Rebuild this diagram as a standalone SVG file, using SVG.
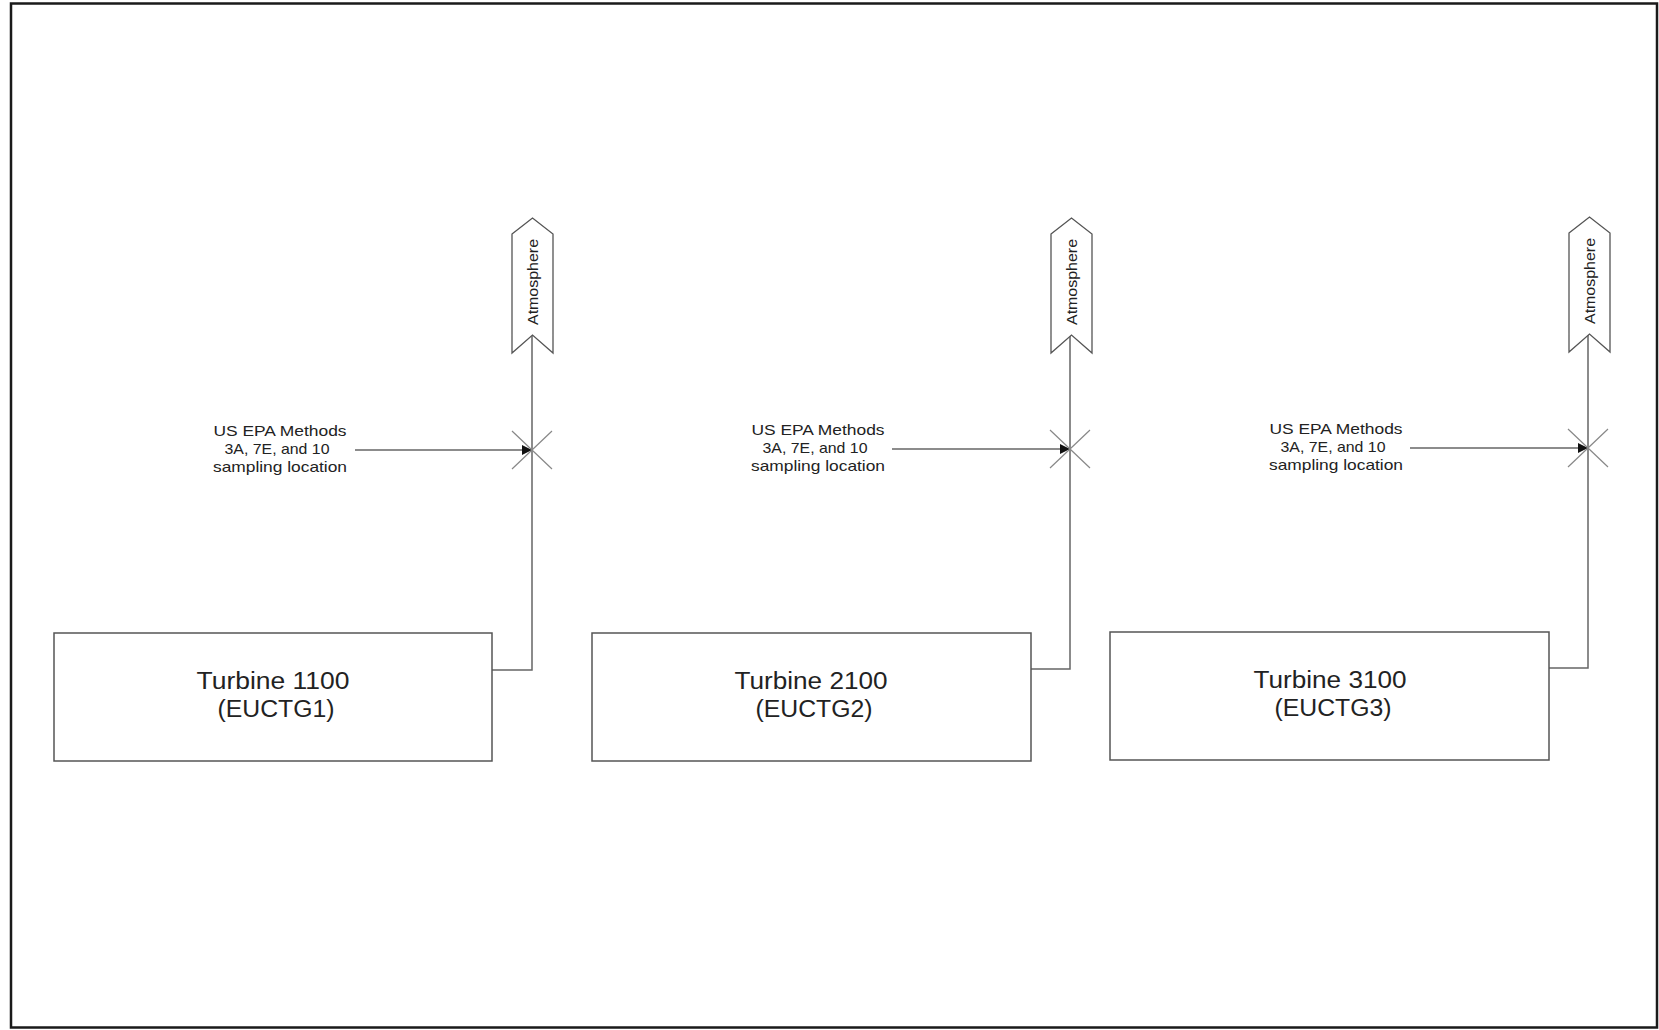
<svg xmlns="http://www.w3.org/2000/svg" width="1659" height="1030" viewBox="0 0 1659 1030">
<defs>
<style>
.frame{fill:none;stroke:#1a1a1a;stroke-width:2.5}
.box{fill:#fff;stroke:#555;stroke-width:1.5}
.stack{fill:#fff;stroke:#555;stroke-width:1.3}
.line{fill:none;stroke:#666;stroke-width:1.5}
.cross{fill:none;stroke:#888;stroke-width:1.2}
.t{font-family:"Liberation Sans",Arial,sans-serif;fill:#222;text-anchor:middle}
.lbl{font-size:15px}
.big{font-size:23px}
.atm{font-size:15px}
</style>
<marker id="arr" viewBox="0 0 10 10" refX="10" refY="5" markerWidth="19" markerHeight="10" markerUnits="userSpaceOnUse" orient="auto">
<path d="M0,0 L10,5 L0,10 z" fill="#111"/>
</marker>
</defs>
<rect class="frame" x="11" y="3.5" width="1646" height="1024"/>

<g id="connectors">
<polyline class="line" points="492,670 532,670 532,335"/>
<polyline class="line" points="1031,669 1070,669 1070,335"/>
<polyline class="line" points="1549,668 1588,668 1588,335"/>
<line class="line" x1="355" y1="450" x2="532" y2="450" marker-end="url(#arr)"/>
<line class="line" x1="892" y1="449" x2="1070" y2="449" marker-end="url(#arr)"/>
<line class="line" x1="1410" y1="448" x2="1588" y2="448" marker-end="url(#arr)"/>
</g>

<g id="sample1">
<path class="cross" d="M512,431 L552,469 M552,431 L512,469"/>
<text class="t lbl"><tspan x="280" y="436" textLength="133" lengthAdjust="spacingAndGlyphs">US EPA Methods</tspan><tspan x="277" y="454" textLength="105" lengthAdjust="spacingAndGlyphs">3A, 7E, and 10</tspan><tspan x="280" y="472" textLength="134" lengthAdjust="spacingAndGlyphs">sampling location</tspan></text>
</g>
<g id="sample2">
<path class="cross" d="M1050,430 L1090,468 M1090,430 L1050,468"/>
<text class="t lbl"><tspan x="818" y="435" textLength="133" lengthAdjust="spacingAndGlyphs">US EPA Methods</tspan><tspan x="815" y="453" textLength="105" lengthAdjust="spacingAndGlyphs">3A, 7E, and 10</tspan><tspan x="818" y="471" textLength="134" lengthAdjust="spacingAndGlyphs">sampling location</tspan></text>
</g>
<g id="sample3">
<path class="cross" d="M1568,429 L1608,467 M1608,429 L1568,467"/>
<text class="t lbl"><tspan x="1336" y="434" textLength="133" lengthAdjust="spacingAndGlyphs">US EPA Methods</tspan><tspan x="1333" y="452" textLength="105" lengthAdjust="spacingAndGlyphs">3A, 7E, and 10</tspan><tspan x="1336" y="470" textLength="134" lengthAdjust="spacingAndGlyphs">sampling location</tspan></text>
</g>

<g id="atm1">
<path class="stack" d="M512,234 L532.5,218 L553,234 L553,353 L532.5,335 L512,353 Z"/>
<text class="t atm" transform="translate(537.5,282) rotate(-90)" textLength="86" lengthAdjust="spacingAndGlyphs">Atmosphere</text>
</g>
<g id="atm2">
<path class="stack" d="M1051,234 L1071.5,218 L1092,234 L1092,353 L1071.5,335 L1051,353 Z"/>
<text class="t atm" transform="translate(1076.5,282) rotate(-90)" textLength="86" lengthAdjust="spacingAndGlyphs">Atmosphere</text>
</g>
<g id="atm3">
<path class="stack" d="M1569,233 L1589.5,217 L1610,233 L1610,352 L1589.5,334 L1569,352 Z"/>
<text class="t atm" transform="translate(1594.5,281) rotate(-90)" textLength="86" lengthAdjust="spacingAndGlyphs">Atmosphere</text>
</g>

<g id="turbine1">
<rect class="box" x="54" y="633" width="438" height="128"/>
<text class="t big"><tspan x="273" y="689" textLength="153" lengthAdjust="spacingAndGlyphs">Turbine 1100</tspan><tspan x="276" y="717" textLength="117" lengthAdjust="spacingAndGlyphs">(EUCTG1)</tspan></text>
</g>
<g id="turbine2">
<rect class="box" x="592" y="633" width="439" height="128"/>
<text class="t big"><tspan x="811" y="689" textLength="153" lengthAdjust="spacingAndGlyphs">Turbine 2100</tspan><tspan x="814" y="717" textLength="117" lengthAdjust="spacingAndGlyphs">(EUCTG2)</tspan></text>
</g>
<g id="turbine3">
<rect class="box" x="1110" y="632" width="439" height="128"/>
<text class="t big"><tspan x="1330" y="688" textLength="153" lengthAdjust="spacingAndGlyphs">Turbine 3100</tspan><tspan x="1333" y="716" textLength="117" lengthAdjust="spacingAndGlyphs">(EUCTG3)</tspan></text>
</g>
</svg>
